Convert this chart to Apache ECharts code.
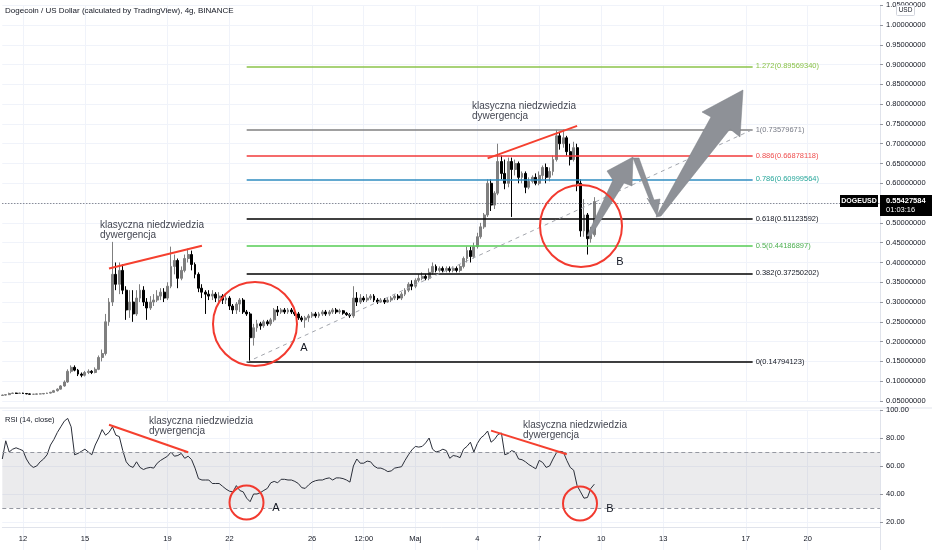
<!DOCTYPE html>
<html>
<head>
<meta charset="utf-8">
<title>DOGEUSD 4g</title>
<script src="https://cdn.jsdelivr.net/npm/echarts@6.0.0/dist/echarts.min.js"></script>
<style>
    html, body {margin: 0; padding: 0; background: #ffffff;}
    #main {width: 932px; height: 550px;}
</style>
</head>
<body>
<div id="main"></div>
<script>
// ---- dane ----
// sloty 4h od 11 kwietnia 2021 00:00 (os kategorii, takze przyszle puste sloty)
let slotCount = 256;
let startUtc = Date.UTC(2021, 3, 11);

// etykiety osi czasu: indeks slotu + tekst
let tickIdx = [6, 24, 48, 66, 90, 105, 120, 138, 156, 174, 192, 216, 234];
let tickText = ['12', '15', '19', '22', '26', '12:00', 'Maj', '4', '7', '10', '13', '17', '20'];

// swiece [open, close, low, high]
let candles = [
    [.064, .065, .063, .066], [.065, .066, .064, .067], [.066, .069, .065, .071], [.069, .070, .068, .071], [.070, .069, .068, .071],
    [.069, .070, .068, .071], [.070, .069, .068, .071], [.069, .068, .067, .070], [.068, .067, .066, .069], [.067, .067, .066, .068],
    [.067, .068, .066, .069], [.068, .068, .067, .069], [.068, .069, .067, .070], [.069, .070, .068, .071], [.070, .072, .069, .073],
    [.072, .076, .071, .078], [.076, .080, .074, .082], [.080, .088, .079, .090], [.088, .098, .086, .102], [.098, .125, .096, .130],
    [.125, .135, .120, .140], [.135, .128, .125, .140], [.128, .118, .113, .131], [.118, .115, .110, .122], [.115, .122, .112, .126],
    [.122, .125, .118, .130], [.125, .122, .118, .128], [.122, .130, .120, .135], [.130, .160, .128, .165], [.160, .170, .150, .180],
    [.170, .250, .165, .270], [.250, .300, .240, .310], [.300, .370, .290, .452], [.370, .345, .330, .400], [.345, .380, .320, .400],
    [.380, .330, .320, .395], [.330, .280, .255, .340], [.280, .300, .260, .330], [.300, .270, .250, .330], [.270, .310, .265, .330],
    [.310, .330, .300, .345], [.330, .300, .290, .340], [.300, .285, .255, .310], [.285, .300, .280, .315], [.300, .305, .290, .320],
    [.305, .315, .300, .330], [.315, .325, .305, .335], [.325, .310, .300, .335], [.310, .340, .305, .350], [.340, .390, .335, .440],
    [.390, .405, .370, .420], [.405, .360, .335, .410], [.360, .380, .355, .390], [.380, .410, .375, .420], [.410, .420, .400, .435],
    [.420, .395, .380, .430], [.395, .370, .360, .400], [.370, .335, .325, .375], [.335, .325, .310, .345], [.325, .320, .270, .330],
    [.320, .315, .305, .330], [.315, .320, .305, .330], [.320, .310, .300, .325], [.310, .315, .300, .325], [.315, .305, .295, .320],
    [.305, .310, .295, .320], [.310, .290, .280, .315], [.290, .280, .270, .295], [.280, .295, .270, .300], [.295, .305, .275, .310],
    [.305, .275, .270, .310], [.275, .270, .265, .280], [.270, .210, .148, .275], [.210, .235, .190, .245], [.235, .245, .225, .255],
    [.245, .240, .230, .250], [.240, .250, .235, .255], [.250, .245, .240, .255], [.245, .255, .240, .260], [.255, .280, .250, .285],
    [.280, .275, .265, .290], [.275, .280, .270, .285], [.280, .275, .270, .285], [.275, .280, .270, .285], [.280, .275, .270, .285],
    [.275, .270, .265, .280], [.270, .260, .255, .275], [.260, .255, .250, .265], [.255, .260, .235, .265], [.260, .265, .250, .270],
    [.265, .270, .260, .275], [.270, .265, .260, .275], [.265, .270, .260, .275], [.270, .275, .265, .280], [.275, .270, .265, .280],
    [.270, .275, .265, .280], [.275, .280, .270, .285], [.280, .275, .270, .285], [.275, .278, .270, .283], [.278, .272, .268, .280],
    [.272, .268, .265, .275], [.268, .265, .260, .272], [.265, .310, .260, .340], [.310, .300, .290, .325], [.300, .310, .295, .320],
    [.310, .305, .300, .315], [.305, .310, .300, .320], [.310, .315, .305, .320], [.315, .305, .300, .320], [.305, .300, .295, .310],
    [.300, .305, .298, .310], [.305, .300, .295, .310], [.300, .305, .298, .310], [.305, .310, .300, .315], [.310, .315, .305, .320],
    [.315, .310, .305, .320], [.310, .320, .305, .325], [.320, .330, .315, .335], [.330, .345, .325, .350], [.345, .340, .330, .355],
    [.340, .355, .335, .360], [.355, .360, .350, .370], [.360, .365, .355, .375], [.365, .360, .355, .370], [.360, .375, .355, .385],
    [.375, .390, .370, .400], [.390, .380, .375, .395], [.380, .385, .375, .390], [.385, .380, .375, .390], [.380, .385, .375, .390],
    [.385, .380, .375, .390], [.380, .385, .375, .390], [.385, .380, .375, .390], [.380, .390, .375, .395], [.390, .410, .385, .415],
    [.410, .430, .400, .440], [.430, .415, .400, .440], [.415, .440, .410, .450], [.440, .465, .435, .475], [.465, .490, .460, .500],
    [.490, .520, .485, .525], [.520, .600, .515, .610], [.600, .545, .530, .610], [.545, .575, .535, .580], [.575, .655, .570, .700],
    [.655, .625, .610, .670], [.625, .600, .585, .660], [.600, .655, .590, .665], [.655, .635, .515, .665], [.635, .650, .620, .660],
    [.650, .615, .600, .655], [.615, .625, .600, .630], [.625, .590, .575, .630], [.590, .605, .585, .615], [.605, .615, .600, .620],
    [.615, .600, .595, .625], [.600, .620, .595, .630], [.620, .640, .610, .645], [.640, .615, .600, .650], [.615, .630, .605, .640],
    [.630, .660, .620, .670], [.660, .720, .655, .735], [.720, .700, .685, .730], [.700, .715, .690, .736], [.715, .680, .670, .720],
    [.680, .660, .645, .700], [.660, .690, .655, .705], [.690, .600, .580, .700], [.600, .480, .465, .610], [.480, .520, .465, .560],
    [.520, .460, .420, .525], [.460, .470, .450, .490], [.470, .554, .465, .565]
];
let lastPrice = 0.55427584;

// RSI (14, close)
let rsiValues = [
    65, 78, 70, 72, 73, 72, 71, 65, 61, 59,
    60, 63, 65, 68, 75, 79, 84, 88, 92, 94,
    88, 68, 69, 70.5, 72, 70, 68, 75, 80, 86,
    82, 84, 88, 82, 81, 71, 63, 60, 59, 63,
    59, 57.5, 58.5, 59, 58.5, 62, 64, 65.5, 67, 70,
    67, 67.5, 69, 65.5, 67, 64.5, 58.5, 51, 50, 50,
    50, 47.5, 47.5, 47.5, 45.5, 43.5, 42, 41.5, 46, 42.5,
    41.5, 37, 34.5, 40, 40, 41, 42.6, 44, 48, 49,
    48, 50.5, 50.5, 50, 50, 49, 47.5, 44.5, 44, 46.5,
    48.5, 49.5, 50, 50, 51, 51.5, 50, 51.5, 51.5, 51,
    50, 48.5, 60, 65, 62, 62, 63.5, 63, 60, 58.5,
    58.5, 57.5, 56, 56.5, 58.5, 59, 59.5, 64, 68, 71.5,
    74, 73.5, 74, 76.5, 80, 72, 70, 70.7, 72, 71,
    65.5, 67.5, 67, 66, 72, 74, 77, 70, 76, 80,
    82, 85, 77, 79, 82.5, 83.6, 68, 69, 71, 70,
    65, 64.5, 63, 61, 59.5, 58, 64, 62.5, 59, 60,
    65, 69.5, 70.5, 70, 64, 59, 57, 46, 41.5, 37,
    37.5, 44, 47
];

// fibonacci retracement (od dolka 23.04 do szczytu 08.05)
let fibLevels = ['0', '0.382', '0.5', '0.618', '0.786', '0.886', '1', '1.272'];
let fibValues = [0.14794123, 0.37250202, 0.44186897, 0.51123592, 0.60999564, 0.66878118, 0.73579671, 0.89569340];
let fibStartIdx = 71;
let fibEndIdx = 218;

// linie dywergencji [idx, wartosc] -> [idx, wartosc]
let priceDivergence = [[[31, 0.385], [58, 0.442]], [[141, 0.663], [167, 0.745]]];
let rsiDivergence = [[[31, 89.5], [54, 69.8]], [[142, 85.3], [164, 68.4]]];

// ---- wykres ----
let fibLineColors = ['#000000', '#000000', '#55cc55', '#000000', '#2f8cc0', '#f23a3a', '#808080', '#8bc34a'];
let fibTextColors = ['#131722', '#131722', '#4caf50', '#131722', '#26a69a', '#ef4f4f', '#787b86', '#8bc34a'];
let fontName = '"Liberation Sans", Arial, sans-serif';

let categories = [];
for (let i = 0; i < slotCount; i++) {
    categories.push(new Date(startUtc + i * 4 * 3600 * 1000).toISOString().slice(0, 16));
}

function isTick(index) {
    return tickIdx.indexOf(index) >= 0;
}

let priceMarkLines = [];
for (let i = 0; i < fibValues.length; i++) {
    priceMarkLines.push([
        {
            coord: [fibStartIdx, fibValues[i]],
            lineStyle: {color: fibLineColors[i], width: 1.5, type: 'solid'},
            label: {
                show: true, position: 'end', distance: 3,
                formatter: fibLevels[i] + '(' + fibValues[i].toFixed(8) + ')',
                color: fibTextColors[i], fontSize: 7.5, fontFamily: fontName
            }
        },
        {coord: [fibEndIdx, fibValues[i]]}
    ]);
}
// przerywana linia fib (0 -> 1)
priceMarkLines.push([
    {coord: [fibStartIdx, fibValues[0]], lineStyle: {color: '#a3a6ad', width: 1, type: [4, 4]}, label: {show: false}},
    {coord: [fibEndIdx, fibValues[6]]}
]);
priceDivergence.forEach(function (seg) {
    priceMarkLines.push([
        {coord: seg[0], lineStyle: {color: '#f5402f', width: 2, type: 'solid'}, label: {show: false}},
        {coord: seg[1]}
    ]);
});
// aktualna cena
priceMarkLines.push({yAxis: lastPrice, lineStyle: {color: '#5d606b', width: 1, type: [1, 2]}, label: {show: false}});

let rsiMarkLines = [
    {yAxis: 70, lineStyle: {color: '#9598a1', width: 1, type: [4, 3]}, label: {show: false}},
    {yAxis: 30, lineStyle: {color: '#9598a1', width: 1, type: [4, 3]}, label: {show: false}}
];
rsiDivergence.forEach(function (seg) {
    rsiMarkLines.push([
        {coord: seg[0], lineStyle: {color: '#f5402f', width: 2, type: 'solid'}, label: {show: false}},
        {coord: seg[1]}
    ]);
});

let axisText = {color: '#131722', fontSize: 7.5, fontFamily: fontName};

let option = {
    animation: false,
    backgroundColor: '#ffffff',
    grid: [
        {left: 2.3, right: 52, top: 5.2, height: 395.8},
        {left: 2.3, right: 52, top: 410, height: 142.5}
    ],
    xAxis: [
        {
            type: 'category', gridIndex: 0, data: categories, boundaryGap: false,
            axisLine: {show: false}, axisTick: {show: false}, axisLabel: {show: false},
            splitLine: {show: true, interval: isTick, lineStyle: {color: '#f0f3fa', width: 1}}
        },
        {
            type: 'category', gridIndex: 1, data: categories, boundaryGap: false, offset: -22.5,
            axisLine: {show: true, lineStyle: {color: '#e0e3eb'}},
            axisTick: {show: false},
            axisLabel: Object.assign({
                interval: isTick, margin: 7,
                formatter: function (v, i) { return tickText[tickIdx.indexOf(i)]; }
            }, axisText),
            splitLine: {show: true, interval: isTick, lineStyle: {color: '#f0f3fa', width: 1}}
        }
    ],
    yAxis: [
        {
            type: 'value', gridIndex: 0, position: 'right', min: 0.05, max: 1.05, interval: 0.05,
            axisLine: {show: true, lineStyle: {color: '#e0e3eb'}},
            axisTick: {show: true, length: 3, lineStyle: {color: '#9598a1'}},
            axisLabel: Object.assign({margin: 6, formatter: function (v) { return v.toFixed(8); }}, axisText),
            splitLine: {show: true, lineStyle: {color: '#f0f3fa'}}
        },
        {
            type: 'value', gridIndex: 1, position: 'right', min: 0, max: 100, interval: 20,
            axisLine: {show: true, lineStyle: {color: '#e0e3eb'}},
            axisTick: {show: true, length: 3, lineStyle: {color: '#9598a1'}},
            axisLabel: Object.assign({margin: 6, showMinLabel: false, formatter: function (v) { return v.toFixed(2); }}, axisText),
            splitLine: {show: true, lineStyle: {color: '#f0f3fa'}}
        }
    ],
    series: [
        {
            name: 'DOGEUSD', type: 'candlestick', xAxisIndex: 0, yAxisIndex: 0,
            data: candles, barWidth: 2.4,
            itemStyle: {color: '#7f7f7f', color0: '#000000', borderColor: '#7f7f7f', borderColor0: '#000000', borderWidth: 1},
            markLine: {silent: true, symbol: ['none', 'none'], animation: false, data: priceMarkLines}
        },
        {
            name: 'RSI', type: 'line', xAxisIndex: 1, yAxisIndex: 1,
            data: rsiValues, showSymbol: false, smooth: false,
            lineStyle: {color: '#2a2e39', width: 1},
            markArea: {silent: true, itemStyle: {color: 'rgba(120,123,134,0.15)'}, data: [[{yAxis: 30}, {yAxis: 70}]]},
            markLine: {silent: true, symbol: ['none', 'none'], animation: false, data: rsiMarkLines}
        }
    ]
};

let chart = echarts.init(document.getElementById('main'));
chart.setOption(option);

// ---- rysunki (tekst, kola, strzalki) ----
let yLast = chart.convertToPixel({yAxisIndex: 0}, lastPrice);
let noteStyle = {fill: '#434651', font: '10px ' + fontName, lineHeight: 10.5, textVerticalAlign: 'top'};
let arrowStyle = {fill: '#8e9197', stroke: '#7b7e85', lineWidth: 0.5};
let circleStyle = {fill: 'none', stroke: '#f23a2f', lineWidth: 2};

function note(x, y, txt) {
    return {type: 'text', x: x, y: y, silent: true, z: 10, style: Object.assign({text: txt}, noteStyle)};
}
function letter(x, y, txt) {
    return {type: 'text', x: x, y: y, silent: true, z: 10,
        style: {text: txt, fill: '#131722', font: '11px ' + fontName, textAlign: 'center', textVerticalAlign: 'middle'}};
}
function ring(cx, cy, r) {
    return {type: 'circle', silent: true, z: 10, shape: {cx: cx, cy: cy, r: r}, style: circleStyle};
}
function arrow(points) {
    return {type: 'polygon', silent: true, z: 9, shape: {points: points}, style: arrowStyle};
}

chart.setOption({
    graphic: [
        {type: 'text', x: 5, y: 10.5, silent: true,
            style: {text: 'Dogecoin / US Dollar (calculated by TradingView), 4g, BINANCE', fill: '#131722',
                font: '8px ' + fontName, textVerticalAlign: 'middle'}},
        {type: 'text', x: 5, y: 420, silent: true,
            style: {text: 'RSI (14, close)', fill: '#131722', font: '7.5px ' + fontName, textVerticalAlign: 'middle'}},
        // separator paneli
        {type: 'line', silent: true, shape: {x1: 0, y1: 408, x2: 932, y2: 408}, style: {stroke: '#e0e3eb', lineWidth: 1}},

        note(100, 219.5, 'klasyczna niedzwiedzia\ndywergencja'),
        note(472, 100.5, 'klasyczna niedzwiedzia\ndywergencja'),
        note(149, 415.5, 'klasyczna niedzwiedzia\ndywergencja'),
        note(523, 419.5, 'klasyczna niedzwiedzia\ndywergencja'),

        ring(255, 324, 42),
        ring(581, 226, 41),
        ring(246.5, 502.5, 17),
        ring(580, 503.5, 17),

        letter(304, 348, 'A'),
        letter(620, 262, 'B'),
        letter(276, 507.5, 'A'),
        letter(610, 508.5, 'B'),

        arrow([[587, 236], [613, 180], [607, 171], [633, 157], [632, 186], [624, 183], [591, 236]]),
        arrow([[633, 158], [639, 158], [654, 200], [660, 199], [657, 216], [647, 198], [650, 201]]),
        arrow([[656, 217], [711, 117], [702, 112], [743, 90], [740, 137], [730, 129], [661, 216]]),

        // USD
        {type: 'rect', silent: true, z: 100, shape: {x: 896.5, y: 5.5, width: 18, height: 10, r: 1},
            style: {fill: '#ffffff', stroke: '#d1d4dc', lineWidth: 1}},
        {type: 'text', silent: true, z: 101, x: 905.5, y: 10.5,
            style: {text: 'USD', fill: '#131722', font: '6.5px ' + fontName, textAlign: 'center', textVerticalAlign: 'middle'}},

        // etykiety ceny
        {type: 'rect', silent: true, z: 100, shape: {x: 840, y: yLast - 6.5, width: 38, height: 12}, style: {fill: '#000000'}},
        {type: 'text', silent: true, z: 101, x: 859, y: yLast,
            style: {text: 'DOGEUSD', fill: '#ffffff', font: 'bold 7px ' + fontName, textAlign: 'center', textVerticalAlign: 'middle'}},
        {type: 'rect', silent: true, z: 100, shape: {x: 880, y: yLast - 6.5, width: 52, height: 21}, style: {fill: '#000000'}},
        {type: 'text', silent: true, z: 101, x: 886, y: yLast,
            style: {text: lastPrice.toFixed(8), fill: '#ffffff', font: 'bold 7.5px ' + fontName, textVerticalAlign: 'middle'}},
        {type: 'text', silent: true, z: 101, x: 886, y: yLast + 9,
            style: {text: '01:03:16', fill: '#ffffff', font: '7.5px ' + fontName, textVerticalAlign: 'middle'}}
    ]
});
</script>
</body>
</html>
